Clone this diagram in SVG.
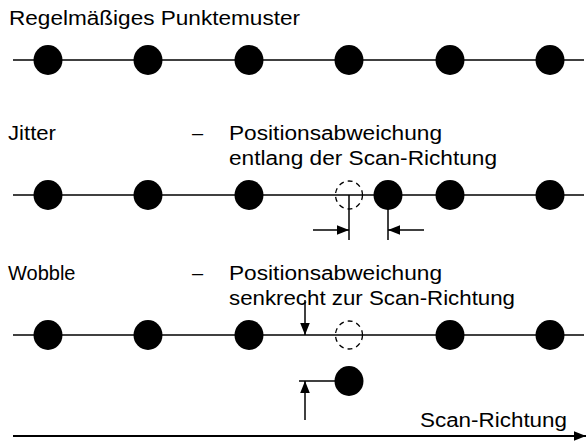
<svg xmlns="http://www.w3.org/2000/svg" width="587" height="443" viewBox="0 0 587 443">
<style>
text{font-family:"Liberation Sans",Arial,sans-serif;font-size:20px;fill:#000}
.ln{stroke:#000;stroke-width:1.5;fill:none}
.dot{fill:#000}
.ghost{fill:none;stroke:#000;stroke-width:1.3;stroke-dasharray:5 4}
</style>
<defs>
<marker id="ah" viewBox="0 0 10 10" refX="10" refY="5" markerWidth="12" markerHeight="12" markerUnits="userSpaceOnUse" orient="auto"><path d="M0,1 L10,5 L0,9 Z" fill="#000"/></marker>
</defs>
<rect width="587" height="443" fill="#fff"/>
<g id="labels">
<text x="9" y="25" textLength="291" lengthAdjust="spacingAndGlyphs">Regelmäßiges Punktemuster</text>
<text x="8" y="140" textLength="48" lengthAdjust="spacingAndGlyphs">Jitter</text>
<text x="192" y="140">–</text>
<text x="229" y="140" textLength="213" lengthAdjust="spacingAndGlyphs">Positionsabweichung</text>
<text x="229" y="165" textLength="268" lengthAdjust="spacingAndGlyphs">entlang der Scan-Richtung</text>
<text x="8" y="280">Wobble</text>
<text x="192" y="280">–</text>
<text x="229" y="280" textLength="213" lengthAdjust="spacingAndGlyphs">Positionsabweichung</text>
<text x="229" y="305" textLength="286" lengthAdjust="spacingAndGlyphs">senkrecht zur Scan-Richtung</text>
<text x="420" y="427" textLength="147" lengthAdjust="spacingAndGlyphs">Scan-Richtung</text>
</g>
<g id="connectors">
<line class="ln" x1="13" y1="60" x2="584" y2="60"/>
<line class="ln" x1="13" y1="195" x2="584" y2="195"/>
<line class="ln" x1="13" y1="335" x2="584" y2="335"/>
<line class="ln" x1="349" y1="195" x2="349" y2="240"/>
<line class="ln" x1="388" y1="205" x2="388" y2="240"/>
<line class="ln" x1="313" y1="230" x2="349" y2="230" marker-end="url(#ah)"/>
<line class="ln" x1="424" y1="230" x2="388" y2="230" marker-end="url(#ah)"/>
<line class="ln" x1="305" y1="300" x2="305" y2="335" marker-end="url(#ah)"/>
<line class="ln" x1="299" y1="381" x2="340" y2="381"/>
<line class="ln" x1="305" y1="420" x2="305" y2="381" marker-end="url(#ah)"/>
<line stroke="#000" stroke-width="2" x1="13" y1="436" x2="586" y2="436" marker-end="url(#ah)"/>
</g>
<g id="row1">
<ellipse class="dot" cx="48" cy="60" rx="14.5" ry="15"/>
<ellipse class="dot" cx="148" cy="60" rx="14.5" ry="15"/>
<ellipse class="dot" cx="249" cy="60" rx="14.5" ry="15"/>
<ellipse class="dot" cx="349" cy="60" rx="14.5" ry="15"/>
<ellipse class="dot" cx="450" cy="60" rx="14.5" ry="15"/>
<ellipse class="dot" cx="550" cy="60" rx="14.5" ry="15"/>
</g>
<g id="row2">
<ellipse class="dot" cx="48" cy="195" rx="14.5" ry="15"/>
<ellipse class="dot" cx="148" cy="195" rx="14.5" ry="15"/>
<ellipse class="dot" cx="249" cy="195" rx="14.5" ry="15"/>
<ellipse class="ghost" cx="349" cy="195" rx="13.5" ry="14"/>
<ellipse class="dot" cx="388" cy="195" rx="14.5" ry="15"/>
<ellipse class="dot" cx="450" cy="195" rx="14.5" ry="15"/>
<ellipse class="dot" cx="550" cy="195" rx="14.5" ry="15"/>
</g>
<g id="row3">
<ellipse class="dot" cx="48" cy="335" rx="14.5" ry="15"/>
<ellipse class="dot" cx="148" cy="335" rx="14.5" ry="15"/>
<ellipse class="dot" cx="249" cy="335" rx="14.5" ry="15"/>
<ellipse class="ghost" cx="349" cy="335" rx="13.5" ry="14"/>
<ellipse class="dot" cx="349" cy="381" rx="14.5" ry="15"/>
<ellipse class="dot" cx="450" cy="335" rx="14.5" ry="15"/>
<ellipse class="dot" cx="550" cy="335" rx="14.5" ry="15"/>
</g>
</svg>
